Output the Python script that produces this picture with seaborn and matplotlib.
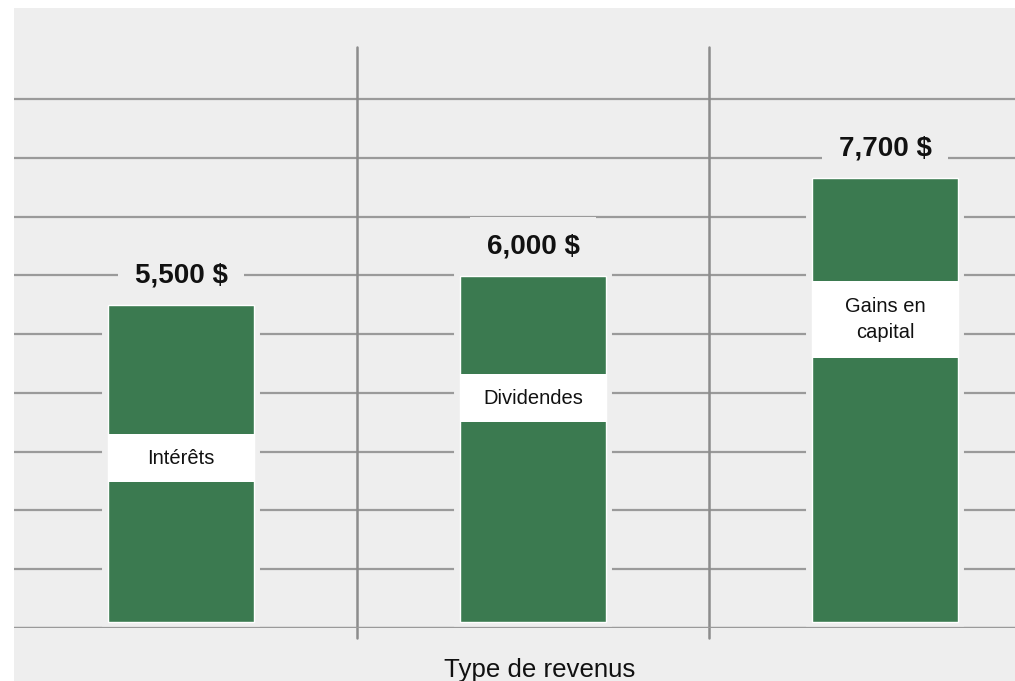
import matplotlib
matplotlib.use("Agg")
import matplotlib.pyplot as plt
import matplotlib.patheffects as pe
from matplotlib.patches import Rectangle
import numpy as np
import seaborn as sns

# data
categories = ["Intérêts", "Dividendes", "Gains en capital"]
values = [5500, 6000, 7700]
inner_labels = ["Intérêts", "Dividendes", "Gains en\ncapital"]
x_title = "Type de revenus"

# layout (data units)
label_y = [2840, 3880, 5240]
label_h = [830, 830, 1330]

BG = "#eeeeee"
GREEN = "#3b7a50"
LINE = "#9a9a9a"

sns.set_style("white")
plt.rcParams["font.family"] = ["Liberation Sans", "DejaVu Sans"]

W, H = 1015, 681
fig = plt.figure(figsize=(W / 100, H / 100), dpi=100)
fig.patch.set_facecolor("white")
fig.patches.append(Rectangle((14 / W, 0), 1 - 14 / W, (H - 8) / H,
                             transform=fig.transFigure, fc=BG, ec="none", zorder=-5))

ax = fig.add_axes([14 / W, (H - 628) / H, (W - 14) / W, 581 / H])
ax.set_facecolor("none")
ax.set_zorder(1)

sns.barplot(x=categories, y=values, color=GREEN, saturation=1, width=0.415, ax=ax)

k = 17.33  # data units per pixel
ax.set_xlim(-0.4744, 2.369)
ax.set_ylim(-6 * k, 575 * k)

# horizontal rules
grid = np.linspace(-6 * k, 523 * k, 10)
ax.set_yticks(grid)
ax.grid(axis="y", color=LINE, lw=1.6, zorder=0.5)
ax.set_axisbelow(True)
ax.axhline(grid[0], color=LINE, lw=1.6, zorder=5)
for xv in [0.5, 1.5]:
    ax.axvline(xv, ymin=-10 / 581, ymax=1, color="#8c8c8c", lw=1.8, zorder=0.6, clip_on=False)

ax.tick_params(length=0, labelleft=False, labelbottom=False)
for s in ax.spines.values():
    s.set_visible(False)

for i, p in enumerate(ax.patches):
    p.set_zorder(2)
    p.set_path_effects([pe.withStroke(linewidth=8.6, foreground=BG)])
    cx = p.get_x() + p.get_width() / 2
    ax.add_patch(Rectangle((p.get_x(), label_y[i] - label_h[i] / 2), p.get_width(), label_h[i],
                           fc="white", ec="none", zorder=3))
    ax.text(cx, label_y[i], inner_labels[i], ha="center", va="center",
            fontsize=14.5, color="#111111", zorder=3.5, linespacing=1.45)
    ax.annotate(f"{values[i]:,} $", xy=(cx, values[i]), xytext=(0, 21),
                textcoords="offset points", ha="center", va="center",
                fontsize=20, fontweight="bold", color="#111111", zorder=1.5,
                bbox=dict(boxstyle="square,pad=0.6", fc=BG, ec="none"))

ax.set_xlabel(x_title, fontsize=18.6, color="#111111")
ax.xaxis.set_label_coords((540 - 14) / 1001, (628 - 676.5) / 581)
ax.xaxis.label.set_va("baseline")

fig.savefig("out.png", dpi=100)
